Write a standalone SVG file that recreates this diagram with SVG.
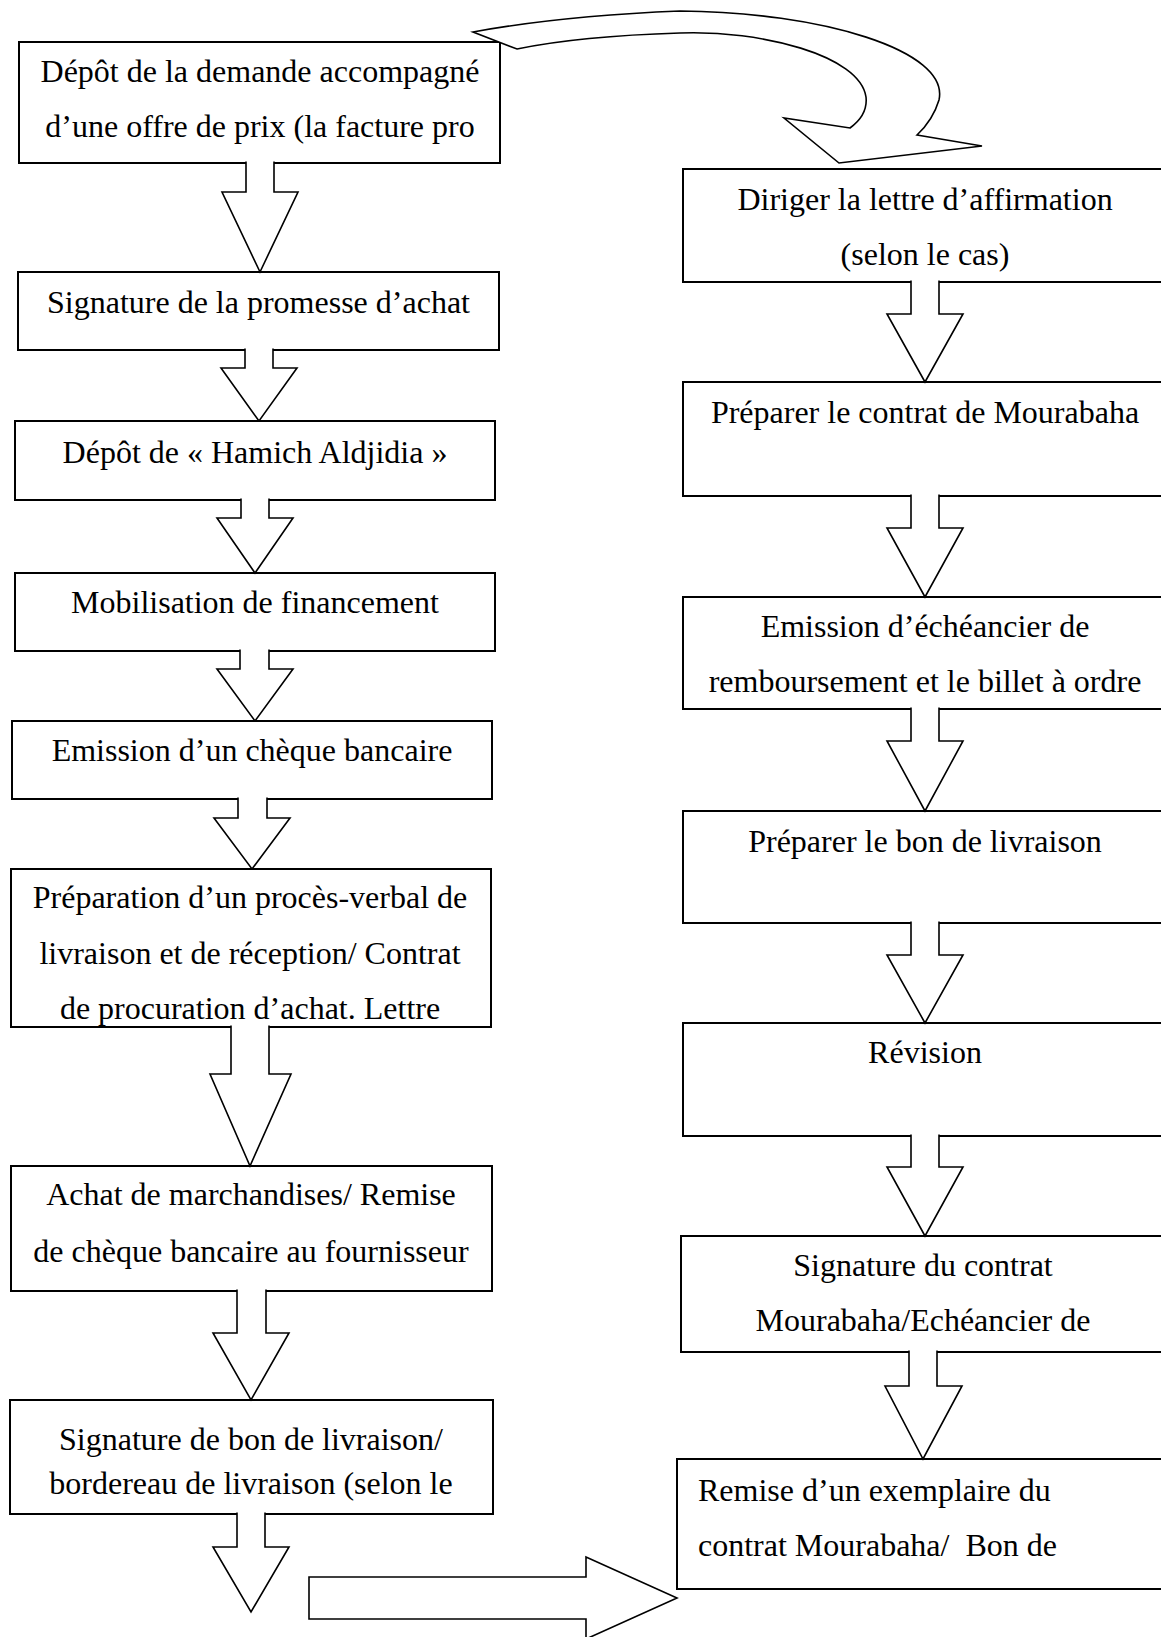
<svg xmlns="http://www.w3.org/2000/svg" width="1161" height="1637" viewBox="0 0 1161 1637">
<style>
.box{fill:#fff;stroke:#000;stroke-width:2}
.arr{fill:#fff;stroke:#000;stroke-width:1.6;stroke-linejoin:miter}
.t{font-family:"Liberation Serif","Times New Roman",serif;font-size:32px;fill:#000;text-anchor:middle}
.tl{text-anchor:start;white-space:pre}
</style>
<rect width="1161" height="1637" fill="#fff"/>
<g id="nodes">
  <!-- left column -->
  <g id="n1"><rect class="box" x="19" y="42" width="481" height="121"/>
    <text class="t" x="260" y="82">Dépôt de la demande accompagné</text>
    <text class="t" x="260" y="137">d’une offre de prix (la facture pro</text></g>
  <g id="n2"><rect class="box" x="18" y="272" width="481" height="78"/>
    <text class="t" x="258.5" y="313">Signature de la promesse d’achat</text></g>
  <g id="n3"><rect class="box" x="15" y="421" width="480" height="79"/>
    <text class="t" x="255" y="463">Dépôt de « Hamich Aldjidia »</text></g>
  <g id="n4"><rect class="box" x="15" y="573" width="480" height="78"/>
    <text class="t" x="255" y="613">Mobilisation de financement</text></g>
  <g id="n5"><rect class="box" x="12" y="721" width="480" height="78"/>
    <text class="t" x="252" y="761">Emission d’un chèque bancaire</text></g>
  <g id="n6"><rect class="box" x="11" y="869" width="480" height="158"/>
    <text class="t" x="250" y="908">Préparation d’un procès-verbal de</text>
    <text class="t" x="250" y="964">livraison et de réception/ Contrat</text>
    <text class="t" x="250" y="1019">de procuration d’achat. Lettre</text></g>
  <g id="n7"><rect class="box" x="11" y="1166" width="481" height="125"/>
    <text class="t" x="251" y="1205">Achat de marchandises/ Remise</text>
    <text class="t" x="251" y="1262">de chèque bancaire au fournisseur</text></g>
  <g id="n8"><rect class="box" x="10" y="1400" width="483" height="114"/>
    <text class="t" x="251" y="1450">Signature de bon de livraison/</text>
    <text class="t" x="251" y="1494">bordereau de livraison (selon le</text></g>
  <!-- right column -->
  <g id="r1"><rect class="box" x="683" y="169" width="490" height="113"/>
    <text class="t" x="925" y="210">Diriger la lettre d’affirmation</text>
    <text class="t" x="925" y="265">(selon le cas)</text></g>
  <g id="r2"><rect class="box" x="683" y="382" width="490" height="114"/>
    <text class="t" x="925" y="423">Préparer le contrat de Mourabaha</text></g>
  <g id="r3"><rect class="box" x="683" y="597" width="490" height="112"/>
    <text class="t" x="925" y="637">Emission d’échéancier de</text>
    <text class="t" x="925" y="692">remboursement et le billet à ordre</text></g>
  <g id="r4"><rect class="box" x="683" y="811" width="490" height="112"/>
    <text class="t" x="925" y="852">Préparer le bon de livraison</text></g>
  <g id="r5"><rect class="box" x="683" y="1023" width="490" height="113"/>
    <text class="t" x="925" y="1063">Révision</text></g>
  <g id="r6"><rect class="box" x="681" y="1236" width="492" height="116"/>
    <text class="t" x="923" y="1276">Signature du contrat</text>
    <text class="t" x="923" y="1331">Mourabaha/Echéancier de</text></g>
  <g id="r7"><rect class="box" x="677" y="1459" width="496" height="130"/>
    <text class="t tl" x="698" y="1501">Remise d’un exemplaire du</text>
    <text class="t tl" x="698" y="1556">contrat Mourabaha/  Bon de</text></g>
</g>
<g id="connectors">
  <!-- block arrows, open at the top so the fill hides the box edge -->
  <path class="arr" d="M246,161.5 V192 H222 L260,272 L298,192 H274 V161.5"/>
  <path class="arr" d="M245,348.5 V368 H221 L259,421 L297,368 H273 V348.5"/>
  <path class="arr" d="M241,498.5 V518 H217 L255,573 L293,518 H269 V498.5"/>
  <path class="arr" d="M240,649.5 V669 H217 L255,721 L293,669 H269 V649.5"/>
  <path class="arr" d="M238,797.5 V818 H214 L252,869 L290,818 H267 V797.5"/>
  <path class="arr" d="M231,1025.5 V1074 H210 L250,1166 L291,1074 H269 V1025.5"/>
  <path class="arr" d="M237,1289.5 V1333 H213 L251,1400 L289,1333 H266 V1289.5"/>
  <path class="arr" d="M237,1512.5 V1547 H213 L251,1612 L289,1547 H265 V1512.5"/>
  <path class="arr" d="M911,280.5 V314 H887 L925,382 L963,314 H939 V280.5"/>
  <path class="arr" d="M911,494.5 V528 H887 L925,597 L963,528 H939 V494.5"/>
  <path class="arr" d="M911,707.5 V741 H887 L925,811 L963,741 H939 V707.5"/>
  <path class="arr" d="M911,921.5 V955 H887 L925,1023 L963,955 H939 V921.5"/>
  <path class="arr" d="M911,1134.5 V1167 H887 L925,1236 L963,1167 H939 V1134.5"/>
  <path class="arr" d="M909,1350.5 V1386 H885 L923,1459 L962,1386 H937 V1350.5"/>
  <!-- horizontal link to the last right-hand step -->
  <path class="arr" d="M309,1577 H586 V1557 L677,1598 L586,1639 V1619 H309 Z"/>
  <!-- curved link from the first step to the right column -->
  <path class="arr" d="M473,32 Q560,16 680,11 C820,12 950,50 939,100 Q933,120 917,135 L982,146 L839,163 L784,118 L850,128 Q868,115 866,97 C860,55 760,30 680,33 Q580,36 517,49 Z"/>
</g>
</svg>
